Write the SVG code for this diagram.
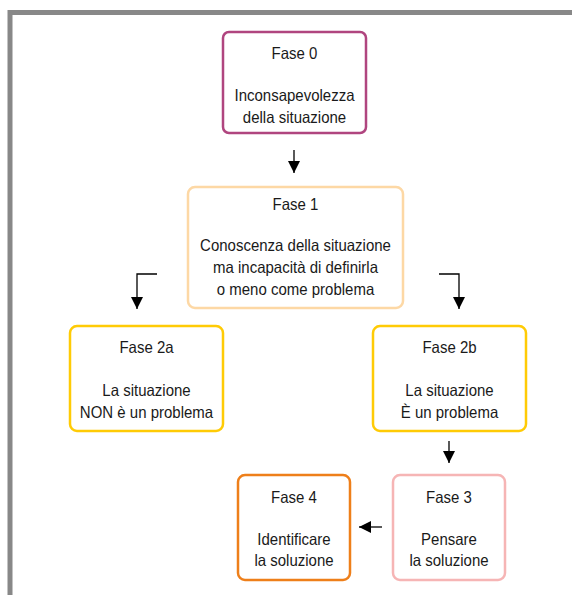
<svg xmlns="http://www.w3.org/2000/svg" width="572" height="595" viewBox="0 0 572 595">
<style>
.box{fill:#fff;stroke-width:2.5}
.t{font-family:"Liberation Sans",Arial,sans-serif;font-size:16.3px;fill:#1a1a1a;text-anchor:middle}
.c{fill:none;stroke:#000;stroke-width:1.3}
</style>
<defs>
<marker id="ah" markerUnits="userSpaceOnUse" markerWidth="12" markerHeight="12" viewBox="0 0 12 12" refX="12" refY="6" orient="auto">
<path d="M0,0 L12,6 L0,12 Z" fill="#000"/>
</marker>
</defs>
<rect x="10" y="12.5" width="620" height="650" fill="none" stroke="#888" stroke-width="5"/>
<g id="connectors">
<path class="c" d="M294,150 V173" marker-end="url(#ah)"/>
<path class="c" d="M157,274 H137 V309" marker-end="url(#ah)"/>
<path class="c" d="M439,274 H459 V309" marker-end="url(#ah)"/>
<path class="c" d="M449,441 V463" marker-end="url(#ah)"/>
<path class="c" d="M382,527 H359" marker-end="url(#ah)"/>
</g>
<g id="fase0">
<rect class="box" x="223" y="32" width="143" height="101" rx="6" stroke="#b0457f"/>
<g transform="translate(294.5,0) scale(0.92,1)">
<text class="t" x="0" y="59">Fase 0</text>
<text class="t" x="0" y="101">Inconsapevolezza</text>
<text class="t" x="0" y="123">della situazione</text>
</g>
</g>
<g id="fase1">
<rect class="box" x="188" y="187" width="215" height="121" rx="7" stroke="#fdd8a5"/>
<g transform="translate(295.5,0) scale(0.92,1)">
<text class="t" x="0" y="210">Fase 1</text>
<text class="t" x="0" y="251">Conoscenza della situazione</text>
<text class="t" x="0" y="273">ma incapacità di definirla</text>
<text class="t" x="0" y="295">o meno come problema</text>
</g>
</g>
<g id="fase2a">
<rect class="box" x="70" y="326" width="153" height="105" rx="7" stroke="#ffcb05"/>
<g transform="translate(146.5,0) scale(0.92,1)">
<text class="t" x="0" y="353">Fase 2a</text>
<text class="t" x="0" y="396">La situazione</text>
<text class="t" x="0" y="418">NON è un problema</text>
</g>
</g>
<g id="fase2b">
<rect class="box" x="373" y="326" width="153" height="105" rx="7" stroke="#ffcb05"/>
<g transform="translate(449.5,0) scale(0.92,1)">
<text class="t" x="0" y="353">Fase 2b</text>
<text class="t" x="0" y="396">La situazione</text>
<text class="t" x="0" y="418">È un problema</text>
</g>
</g>
<g id="fase3">
<rect class="box" x="393" y="475" width="112" height="105" rx="7" stroke="#f6b5b5"/>
<g transform="translate(449,0) scale(0.92,1)">
<text class="t" x="0" y="503">Fase 3</text>
<text class="t" x="0" y="545">Pensare</text>
<text class="t" x="0" y="566">la soluzione</text>
</g>
</g>
<g id="fase4">
<rect class="box" x="238" y="475" width="112" height="105" rx="7" stroke="#ee7f1a"/>
<g transform="translate(294,0) scale(0.92,1)">
<text class="t" x="0" y="503">Fase 4</text>
<text class="t" x="0" y="545">Identificare</text>
<text class="t" x="0" y="566">la soluzione</text>
</g>
</g>
</svg>
